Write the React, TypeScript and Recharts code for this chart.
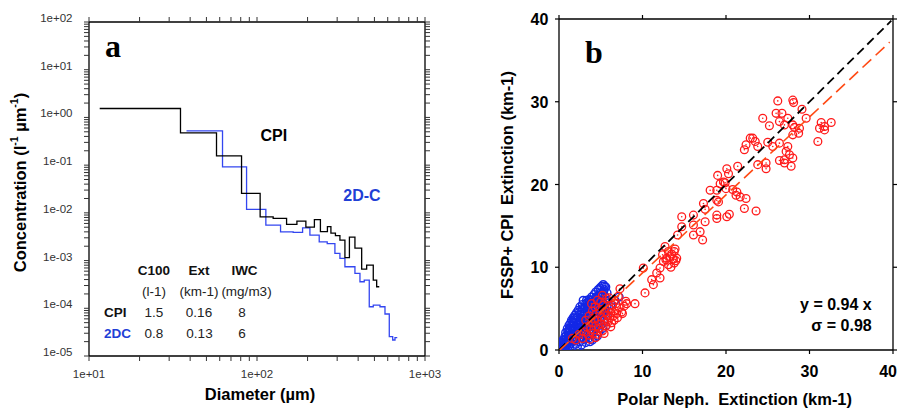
import React from 'react';
import { LineChart, Line, XAxis, YAxis, ScatterChart, Scatter } from 'recharts';

const SANS = '"Liberation Sans", Arial, Helvetica, sans-serif';
const SERIF = '"Liberation Serif", "Times New Roman", serif';
const TEXT_BLUE = '#1f3fd6';

// ---------------- Panel a: size distributions (step curves) ----------------
const cpiDiameter = [11.58, 35.04, 57.41, 80.91, 104.4, 124.8, 150.0, 172.8, 195.4, 219.6, 238.5, 262.5, 275.4, 293.0, 311.6, 333.7, 354.9, 382.8, 419.8, 449.5, 492.1, 515.6, 534.3];
const cpiConc = [1.538, 0.4741, 0.1564, 0.02553, 0.008264, 0.007648, 0.005728, 0.006713, 0.005028, 0.007217, 0.004048, 0.005151, 0.003766, 0.003337, 0.002686, 0.001156, 0.003104, 0.001827, 0.0006637, 0.0008047, 0.0003908, 0.0002827, 0.0002827];

const dcDiameter = [38.05, 62.34, 86.68, 112.9, 138.1, 164.2, 186.8, 206.5, 234.6, 261.8, 290.9, 311.6, 333.7, 382.8, 410.1, 434.9, 465.8, 492.1, 539.5, 577.8, 612.9, 642.2, 662.8, 683.9];
const dcConc = [0.5222, 0.09204, 0.0118, 0.005537, 0.004009, 0.003896, 0.004862, 0.003418, 0.002474, 0.002269, 0.001415, 0.001112, 0.000742, 0.0005395, 0.0003598, 0.0003908, 0.0001078, 0.000117, 0.0001078, 0.00007585, 0.00002538, 0.00002165, 0.00002419, 0.00002419];

const aMajorX = [10, 100, 1000];
const aMajorXLabels = ['1e+01', '1e+02', '1e+03'];
const aMajorY = [1e-5, 1e-4, 1e-3, 1e-2, 1e-1, 1, 10, 100];
const aMajorYLabels = ['1e-05', '1e-04', '1e-03', '1e-02', '1e-01', '1e+00', '1e+01', '1e+02'];
const minorMultipliers = [2, 3, 4, 5, 6, 7, 8, 9];

const tableHeaders = ['C100', 'Ext', 'IWC'];
const tableUnits = ['(l-1)', '(km-1)', '(mg/m3)'];
const cpiStats = ['1.5', '0.16', '8'];
const dcStats = ['0.8', '0.13', '6'];

// ---------------- Panel b: extinction scatter ----------------
const bTicks = [0, 10, 20, 30, 40];
const bTickLabels = ['0', '10', '20', '30', '40'];

const blueNeph: [number, number][] = [
  [0.1, 0.2], [0.2, 0.5], [0.3, 0.1], [0.3, 0.8], [0.4, 0.4], [0.5, 1.2], [0.5, 0.2], [0.6, 0.7], [0.7, 1.6], [0.7, 0.3],
  [0.8, 1.0], [0.8, 2.1], [0.9, 0.5], [0.9, 1.4], [1.0, 2.6], [1.0, 0.2], [1.1, 1.8], [1.1, 0.9], [1.2, 3.0], [1.2, 2.2], [1.2, 0.5],
  [1.3, 1.3], [1.3, 2.6], [1.4, 3.3], [1.4, 0.8], [1.5, 1.9], [1.5, 3.6], [1.6, 2.3], [1.6, 0.4], [1.7, 2.9], [1.7, 1.1], [1.7, 3.9],
  [1.8, 1.6], [1.8, 3.4], [1.9, 4.2], [1.9, 2.1], [2.0, 0.7], [2.0, 2.7], [2.0, 3.8], [2.1, 4.5], [2.1, 1.4], [2.2, 3.1], [2.2, 2.3], [2.2, 0.4],
  [2.3, 4.8], [2.3, 1.8], [2.4, 3.5], [2.4, 2.7], [2.5, 4.2], [2.5, 1.0], [2.5, 5.2], [2.6, 3.0], [2.6, 2.0], [2.7, 4.6], [2.7, 3.8], [2.7, 0.6],
  [2.8, 5.5], [2.8, 2.4], [2.9, 6.0], [2.9, 4.1], [3.0, 3.3], [3.0, 1.3], [3.0, 5.0], [3.1, 2.7], [3.1, 4.5], [3.2, 5.6], [3.2, 0.9], [3.2, 3.8],
  [3.3, 6.0], [3.3, 2.1], [3.4, 4.8], [3.4, 3.0], [3.5, 5.4], [3.5, 1.4], [3.6, 6.1], [3.6, 3.9], [3.7, 4.4], [3.7, 2.5], [3.7, 1.0],
  [3.8, 5.7], [3.8, 3.2], [3.9, 6.4], [3.9, 4.9], [4.0, 1.2], [4.0, 3.6], [4.1, 5.3], [4.1, 2.1], [4.2, 6.7], [4.2, 4.3],
  [4.3, 5.9], [4.3, 1.5], [4.4, 4.8], [4.4, 7.0], [4.5, 3.7], [4.5, 6.3], [4.6, 1.7], [4.6, 5.5], [4.7, 7.3], [4.7, 4.2],
  [4.8, 6.6], [4.8, 2.2], [4.9, 7.5], [4.9, 5.1], [5.0, 6.0], [5.0, 3.0], [5.1, 7.7], [5.1, 4.5], [5.2, 6.9], [5.2, 2.6],
  [5.3, 7.9], [5.3, 5.6], [5.4, 7.3], [5.4, 3.5], [5.5, 6.5], [5.5, 4.8], [5.6, 7.6], [5.6, 2.9], [5.7, 5.9], [5.8, 4.1],
  [6.2, 5.5], [6.7, 6.0], [7.2, 6.4],
  [0.15, 0.6], [0.25, 0.3], [0.55, 0.45], [0.2, 0.9], [0.35, 0.55], [0.45, 1.0], [0.65, 1.3], [0.75, 0.6], [0.85, 1.7], [0.95, 1.1],
  [1.05, 2.2], [1.15, 1.5], [1.25, 2.6], [1.35, 1.9], [1.45, 2.9], [1.55, 1.1], [1.55, 2.6], [1.65, 3.4], [1.75, 2.0], [1.85, 2.6],
  [1.85, 3.9], [1.95, 1.2], [2.05, 3.3], [2.15, 2.0], [2.25, 4.0], [2.35, 2.4], [2.45, 3.2], [2.45, 4.6], [2.55, 1.5], [2.65, 3.5],
  [2.75, 2.9], [2.75, 5.0], [2.85, 1.8], [2.95, 3.7], [3.05, 4.5], [3.05, 2.3], [3.15, 5.2], [3.25, 3.2], [3.35, 4.2], [3.35, 1.7],
  [3.45, 5.8], [3.55, 3.5], [3.55, 2.7], [3.65, 5.0], [3.75, 4.0], [3.85, 2.0], [3.85, 6.0], [3.95, 3.0], [4.05, 4.5], [4.05, 5.8],
  [4.15, 3.4], [4.25, 5.0], [4.35, 2.6], [4.35, 6.3], [4.45, 4.1], [4.55, 5.2], [4.65, 3.2], [4.65, 6.6], [4.75, 5.8], [4.85, 4.6],
  [4.95, 6.9], [4.95, 3.6], [5.05, 5.4], [5.15, 6.4], [5.25, 4.2], [5.35, 7.1], [5.45, 5.2], [5.45, 7.7], [5.55, 6.0], [5.65, 4.4],
  [5.75, 6.9], [5.75, 5.3],
];

const redNeph: [number, number][] = [
  // dense low cluster
  [3.0, 2.2], [3.3, 2.8], [3.5, 1.8], [3.8, 2.5], [3.9, 3.3], [4.1, 2.0], [4.2, 3.8], [4.4, 2.9], [4.5, 4.4], [4.6, 1.9],
  [4.7, 3.5], [4.8, 2.6], [4.9, 4.9], [5.0, 3.1], [5.1, 4.0], [5.2, 2.3], [5.3, 5.4], [5.4, 3.6], [5.5, 4.6], [5.6, 2.9],
  [5.7, 6.2], [5.8, 4.2], [5.9, 3.4], [6.0, 5.0], [6.1, 3.9], [6.2, 4.5], [6.3, 3.3], [6.4, 5.4], [6.5, 4.1], [6.6, 3.6],
  [6.7, 4.7], [6.8, 5.6], [6.9, 4.4], [7.0, 3.9], [7.2, 5.1], [7.5, 4.6], [7.8, 5.3], [8.1, 5.6], [3.6, 4.1], [4.0, 4.7],
  [2.8, 1.4], [2.4, 1.9], [2.0, 1.2], [1.6, 1.4], [3.2, 3.6], [4.3, 5.2], [5.0, 5.8], [3.7, 1.3], [4.4, 1.5], [6.2, 2.8],
  [5.4, 2.0], [6.0, 6.3], [5.2, 6.6], [6.6, 6.0], [7.3, 7.4], [9.1, 5.6], [8.0, 5.9], [7.6, 4.4], [7.1, 6.5], [4.6, 6.0], [3.9, 5.6],
  // 10 - 14 group
  [10.3, 6.9], [11.3, 7.9], [11.1, 8.5], [12.1, 8.7], [11.7, 9.3], [10.1, 9.9], [12.1, 9.9], [13.1, 10.3], [13.8, 10.5], [12.5, 10.7],
  [12.9, 11.1], [14.1, 11.1], [13.3, 11.3], [13.8, 11.9], [13.1, 11.9], [12.7, 12.5], [14.2, 13.9], [13.5, 11.6], [12.8, 10.9],
  [13.9, 12.2], [14.0, 10.8], [13.4, 10.0], [12.4, 11.5], [13.7, 11.0],
  // 14 - 22 group
  [17.2, 13.3], [16.1, 13.9], [16.9, 14.3], [17.5, 15.5], [16.1, 15.1], [14.7, 14.9], [14.7, 16.1], [16.1, 16.3], [17.5, 17.0], [17.3, 17.7],
  [18.9, 15.9], [18.9, 16.3], [20.4, 16.4], [20.1, 16.1], [18.9, 18.1], [19.1, 17.9], [18.9, 19.3], [18.1, 19.3], [19.9, 20.2], [19.3, 20.1],
  [19.7, 20.3], [19.0, 21.1], [20.3, 21.3], [20.1, 21.9], [21.4, 22.2], [21.7, 18.5], [20.0, 19.5], [21.2, 18.7], [20.8, 19.4], [21.3, 19.1],
  [22.2, 17.1], [22.4, 18.3], [23.6, 16.8],
  // upper group
  [23.8, 22.4], [24.8, 21.9], [24.8, 22.6], [27.8, 22.2], [27.0, 22.6], [26.4, 22.9], [28.0, 23.2], [27.0, 23.0], [27.6, 23.6], [27.2, 24.0],
  [27.4, 24.6], [25.6, 24.6], [26.4, 25.0], [25.0, 25.1], [23.8, 24.6], [22.2, 24.2], [22.4, 24.8], [22.9, 25.6], [23.5, 25.2], [23.2, 25.6],
  [31.0, 25.2], [31.8, 26.6], [31.2, 26.8], [31.8, 27.0], [32.6, 27.5], [31.4, 27.5], [28.0, 26.0], [28.7, 26.2], [28.2, 26.9], [29.6, 28.0],
  [28.8, 26.8], [28.0, 27.2], [27.0, 27.2], [27.4, 28.0], [25.2, 27.1], [26.4, 27.6], [26.7, 28.6], [26.0, 28.6], [24.4, 28.0], [29.1, 29.1],
  [28.1, 29.9], [28.0, 30.2], [26.2, 30.1],
];

const oneToOneX = [0, 39.8];
const oneToOneY = [0, 39.8];
const fitX = [0.1, 39.6];
const fitY = [0.0, 37.2];

const cpiData = cpiDiameter.map((d, i) => ({ d, c: cpiConc[i] }));
const dcData = dcDiameter.map((d, i) => ({ d, c: dcConc[i] }));
const blueData = blueNeph.map(([x, y]) => ({ x, y }));
const redData = redNeph.map(([x, y]) => ({ x, y }));
const oneToOneData = oneToOneX.map((x, i) => ({ x, y: oneToOneY[i] }));
const fitData = fitX.map((x, i) => ({ x, y: fitY[i] }));

// ---------------- layout ----------------
const A_W = 460, A_H = 409, A_LEFT = 89, A_RIGHT = 35, A_TOP = 22, A_BOTTOM = 53;
const B_X0 = 460, B_W = 439, B_H = 409, B_LEFT = 99, B_RIGHT = 6, B_TOP = 19, B_BOTTOM = 59;

// tick-mark geometry for the frame (decoration following the axis geometry)
const aPlot = { l: A_LEFT, r: A_W - A_RIGHT, t: A_TOP, b: A_H - A_BOTTOM };
const bPlot = { l: B_X0 + B_LEFT, r: B_X0 + B_W - B_RIGHT, t: B_TOP, b: B_H - B_BOTTOM };
const aXAll: number[] = [...aMajorX];
[10, 100].forEach((d) => minorMultipliers.forEach((m) => aXAll.push(d * m)));
const aYAll: number[] = [...aMajorY];
[1e-5, 1e-4, 1e-3, 1e-2, 1e-1, 1, 10].forEach((d) => minorMultipliers.forEach((m) => aYAll.push(d * m)));
const aXPos = (v: number) => aPlot.l + ((Math.log10(v) - 1) / 2) * (aPlot.r - aPlot.l);
const aYPos = (v: number) => aPlot.b - ((Math.log10(v) + 5) / 7) * (aPlot.b - aPlot.t);
const bXPos = (v: number) => bPlot.l + (v / 40) * (bPlot.r - bPlot.l);
const bYPos = (v: number) => bPlot.b - (v / 40) * (bPlot.b - bPlot.t);

const findMajor = (arr: number[], v: number) => arr.findIndex((m) => Math.abs(m - v) / m < 1e-6);

// ---------------- tick label renderers ----------------
const tickLabelA = { fontFamily: SANS, fontSize: 11.5, fill: '#333' };
const ALeftLabel = (p: any) => {
  const i = findMajor(aMajorY, p.payload.value);
  return i >= 0 ? (
    <text x={p.x - 16.5} y={p.y - 4} textAnchor="end" dominantBaseline="central" {...tickLabelA}>{aMajorYLabels[i]}</text>
  ) : <g />;
};
const ABottomLabel = (p: any) => {
  const i = findMajor(aMajorX, p.payload.value);
  return i >= 0 ? (
    <text x={p.x} y={p.y + 18.3} textAnchor="middle" dominantBaseline="central" {...tickLabelA}>{aMajorXLabels[i]}</text>
  ) : <g />;
};
const tickLabelB = { fontFamily: SANS, fontSize: 16, fontWeight: 700, fill: '#000' };
const BLeftLabel = (p: any) => (
  <text x={p.x - 10.7} y={p.y + 0.5} textAnchor="end" dominantBaseline="central" {...tickLabelB}>
    {bTickLabels[bTicks.indexOf(p.payload.value)]}
  </text>
);
const BBottomLabel = (p: any) => {
  const i = bTicks.indexOf(p.payload.value);
  const last = i === bTicks.length - 1;
  return (
    <text x={last ? p.x + 4 : p.x} y={p.y + 21} textAnchor={last ? 'end' : 'middle'} dominantBaseline="central" {...tickLabelB}>
      {bTickLabels[i]}
    </text>
  );
};

const RedCircle = (p: any) => (
  <g>
    <circle cx={p.cx} cy={p.cy} r={3.9} fill="none" stroke="#ff1a1a" strokeWidth={1.3} />
    <circle cx={p.cx} cy={p.cy} r={0.8} fill="#ff1a1a" />
  </g>
);
const BlueCircle = (p: any) => (
  <circle cx={p.cx} cy={p.cy} r={3.9} fill="none" stroke="#1428e6" strokeWidth={1.4} />
);
const NoShape = () => <g />;

const axisLine = { stroke: '#000', strokeWidth: 1.3 };
const common = { type: 'number' as const, allowDataOverflow: true, interval: 0, tickSize: 0, tickMargin: 0, tickLine: false, axisLine };

export default function App() {
  const TA = 5;
  const TB = 4;
  return (
    <div style={{ position: 'absolute', left: 0, top: 0, width: 899, height: 409, background: '#fff', overflow: 'hidden' }}>
      <div style={{ position: 'absolute', left: 0, top: 0 }}>
        <LineChart width={A_W} height={A_H} margin={{ top: 0, right: 0, bottom: 0, left: 0 }}>
          <XAxis xAxisId="b" orientation="bottom" dataKey="d" scale="log" domain={[10, 1000]} ticks={aMajorX} height={A_BOTTOM} tick={ABottomLabel} {...common} />
          <XAxis xAxisId="t" orientation="top" dataKey="d" scale="log" domain={[10, 1000]} ticks={aMajorX} height={A_TOP} tick={false} {...common} />
          <YAxis yAxisId="l" orientation="left" dataKey="c" scale="log" domain={[1e-5, 100]} ticks={aMajorY} width={A_LEFT} tick={ALeftLabel} {...common} />
          <YAxis yAxisId="r" orientation="right" dataKey="c" scale="log" domain={[1e-5, 100]} ticks={aMajorY} width={A_RIGHT} tick={false} {...common} />
          <Line data={dcData} dataKey="c" xAxisId="b" yAxisId="l" type="stepAfter" stroke="#3346f0" strokeWidth={1.3} dot={false} isAnimationActive={false} />
          <Line data={cpiData} dataKey="c" xAxisId="b" yAxisId="l" type="stepAfter" stroke="#000" strokeWidth={1.3} dot={false} isAnimationActive={false} />
        </LineChart>
      </div>
      <div style={{ position: 'absolute', left: B_X0, top: 0 }}>
        <ScatterChart width={B_W} height={B_H} margin={{ top: 0, right: 0, bottom: 0, left: 0 }}>
          <XAxis xAxisId="b" orientation="bottom" dataKey="x" domain={[0, 40]} ticks={bTicks} height={B_BOTTOM} tick={BBottomLabel} {...common} />
          <XAxis xAxisId="t" orientation="top" dataKey="x" domain={[0, 40]} ticks={bTicks} height={B_TOP} tick={false} {...common} />
          <YAxis yAxisId="l" orientation="left" dataKey="y" domain={[0, 40]} ticks={bTicks} width={B_LEFT} tick={BLeftLabel} {...common} />
          <YAxis yAxisId="r" orientation="right" dataKey="y" domain={[0, 40]} ticks={bTicks} width={B_RIGHT} tick={false} {...common} />
          <Scatter data={blueData} xAxisId="b" yAxisId="l" shape={BlueCircle} isAnimationActive={false} />
          <Scatter data={redData} xAxisId="b" yAxisId="l" shape={RedCircle} isAnimationActive={false} />
          <Scatter data={oneToOneData} xAxisId="b" yAxisId="l" shape={NoShape} isAnimationActive={false}
            line={{ stroke: '#000', strokeWidth: 1.8, strokeDasharray: '9 5' }} />
          <Scatter data={fitData} xAxisId="b" yAxisId="l" shape={NoShape} isAnimationActive={false}
            line={{ stroke: '#ff4a14', strokeWidth: 1.6, strokeDasharray: '12 6' }} />
        </ScatterChart>
      </div>
      <svg width={899} height={409} style={{ position: 'absolute', left: 0, top: 0, pointerEvents: 'none' }}>
        {/* frame tick marks, panel a (log, with minor ticks) */}
        <g stroke="#333" strokeWidth={1}>
          {aYAll.map((v, k) => (
            <g key={'ay' + k}>
              <line x1={aPlot.l} x2={aPlot.l - TA} y1={aYPos(v)} y2={aYPos(v)} />
              <line x1={aPlot.r} x2={aPlot.r + TA} y1={aYPos(v)} y2={aYPos(v)} />
            </g>
          ))}
          {aXAll.map((v, k) => (
            <g key={'ax' + k}>
              <line x1={aXPos(v)} x2={aXPos(v)} y1={aPlot.b} y2={aPlot.b + TA} />
              <line x1={aXPos(v)} x2={aXPos(v)} y1={aPlot.t} y2={aPlot.t - TA} />
            </g>
          ))}
        </g>
        {/* frame tick marks, panel b */}
        <g stroke="#000" strokeWidth={1.2}>
          {bTicks.map((v, k) => (
            <g key={'b' + k}>
              <line x1={bPlot.l} x2={bPlot.l - TB} y1={bYPos(v)} y2={bYPos(v)} />
              <line x1={bPlot.r} x2={bPlot.r + TB} y1={bYPos(v)} y2={bYPos(v)} />
              <line x1={bXPos(v)} x2={bXPos(v)} y1={bPlot.b} y2={bPlot.b + TB} />
              <line x1={bXPos(v)} x2={bXPos(v)} y1={bPlot.t} y2={bPlot.t - TB} />
            </g>
          ))}
        </g>
        {/* panel a annotations */}
        <text x={105} y={57} fontFamily={SERIF} fontWeight={700} fontSize={32} fill="#000">a</text>
        <text x={260.5} y={141} fontFamily={SANS} fontWeight={700} fontSize={16} fill="#000">CPI</text>
        <text x={343.3} y={201} fontFamily={SANS} fontWeight={700} fontSize={16} fill={TEXT_BLUE}>2D-C</text>
        {tableHeaders.map((t, i) => (
          <text key={'h' + t} x={[154, 199, 244.5][i]} y={275} textAnchor="middle" fontFamily={SANS} fontWeight={700} fontSize={13.5} fill="#111">{t}</text>
        ))}
        {tableUnits.map((t, i) => (
          <text key={'u' + t} x={[154, 199, 246.5][i]} y={295.5} textAnchor="middle" fontFamily={SANS} fontSize={13.5} fill="#222">{t}</text>
        ))}
        <text x={104} y={317.3} fontFamily={SANS} fontWeight={700} fontSize={13.5} fill="#111">CPI</text>
        {cpiStats.map((t, i) => (
          <text key={'c' + i} x={[154, 199, 242][i]} y={317.3} textAnchor="middle" fontFamily={SANS} fontSize={13.5} fill="#222">{t}</text>
        ))}
        <text x={104} y={338.3} fontFamily={SANS} fontWeight={700} fontSize={13.5} fill={TEXT_BLUE}>2DC</text>
        {dcStats.map((t, i) => (
          <text key={'d' + i} x={[154, 199.5, 242][i]} y={338.3} textAnchor="middle" fontFamily={SANS} fontSize={13.5} fill="#222">{t}</text>
        ))}
        <text x={260} y={400} textAnchor="middle" fontFamily={SANS} fontWeight={700} fontSize={16.5} fill="#000">Diameter (µm)</text>
        <text transform="translate(20,182.5) rotate(-90)" textAnchor="middle" dominantBaseline="central" fontFamily={SANS} fontWeight={700} fontSize={16.5} fill="#000">
          Concentration (l<tspan dy={-6} fontSize={10.5}>-1</tspan><tspan dy={6}> µm</tspan><tspan dy={-6} fontSize={10.5}>-1</tspan><tspan dy={6}>)</tspan>
        </text>
        {/* panel b annotations */}
        <text x={585} y={63} fontFamily={SERIF} fontWeight={700} fontSize={32} fill="#000">b</text>
        <text x={871.7} y={310} textAnchor="end" fontFamily={SANS} fontWeight={700} fontSize={16} fill="#000">y = 0.94 x</text>
        <text x={871.7} y={330.7} textAnchor="end" fontFamily={SANS} fontWeight={700} fontSize={16} fill="#000">σ = 0.98</text>
        <text x={734.7} y={405} textAnchor="middle" xmlSpace="preserve" style={{ whiteSpace: 'pre' }} fontFamily={SANS} fontWeight={700} fontSize={16.5} fill="#000">Polar Neph.  Extinction (km-1)</text>
        <text transform="translate(506.7,185) rotate(-90)" textAnchor="middle" dominantBaseline="central" xmlSpace="preserve" style={{ whiteSpace: 'pre' }} fontFamily={SANS} fontWeight={700} fontSize={16.5} fill="#000">FSSP+ CPI  Extinction (km-1)</text>
      </svg>
    </div>
  );
}
